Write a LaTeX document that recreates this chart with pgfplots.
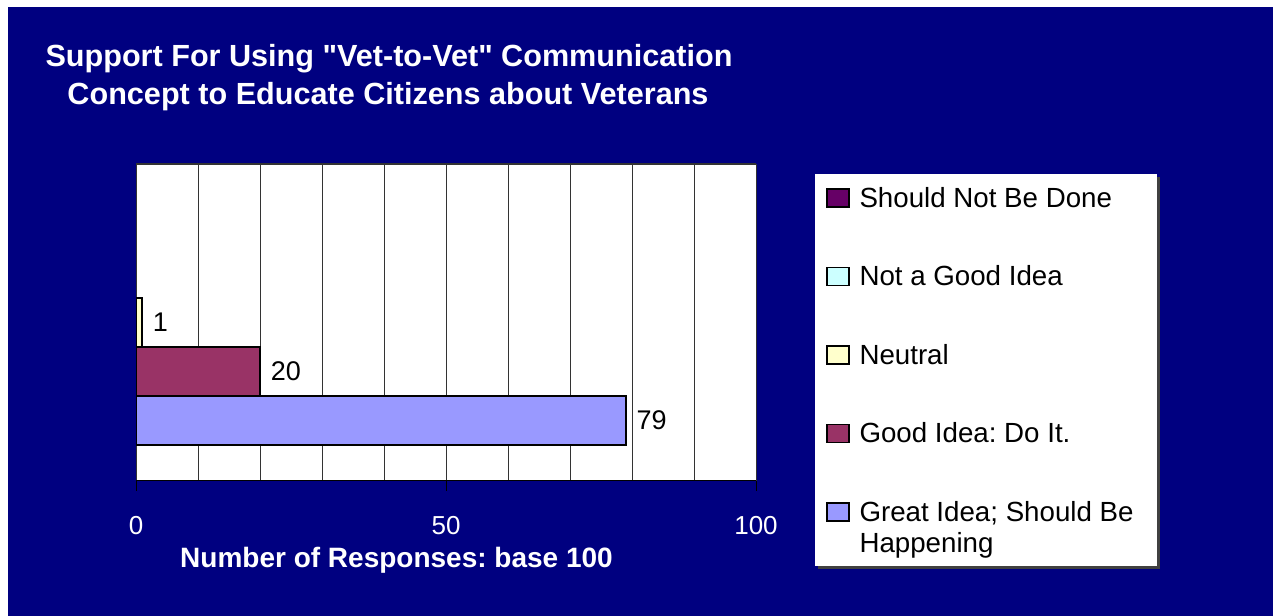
\documentclass[border=0pt]{standalone}
\usepackage{fontspec}
\setmainfont{Liberation Sans}[Ligatures=TeXOff]
\usepackage{pgfplots}
\pgfplotsset{compat=1.18}
\definecolor{navy}{HTML}{000080}
\definecolor{cShould}{HTML}{660066}
\definecolor{cNot}{HTML}{CCFFFF}
\definecolor{cNeutral}{HTML}{FFFFCC}
\definecolor{cGood}{HTML}{993366}
\definecolor{cGreat}{HTML}{9999FF}
\frenchspacing
\begin{document}
\begin{tikzpicture}[x=1bp,y=1bp]
\fill[white] (0,0) rectangle (1273,616);
\fill[navy] (8,0) rectangle (1273,609);
\node[anchor=base, text=white, font=\bfseries\fontsize{30.6bp}{36bp}\selectfont, inner sep=0] at (389,549) {Support For Using "Vet-to-Vet" Communication};
\node[anchor=base, text=white, font=\bfseries\fontsize{30.6bp}{36bp}\selectfont, inner sep=0] at (388,511) {Concept to Educate Citizens about Veterans};
\fill[black!75] (818,47) rectangle (1160,439);
\fill[white] (815,50) rectangle (1157,442);
\begin{axis}[
  at={(136bp,135bp)}, anchor=south west,
  scale only axis, width=620bp, height=317bp,
  xmin=0, xmax=100, ymin=-0.2347, ymax=6.2347,
  xbar, bar width=1, bar shift=0pt,
  axis background/.style={fill=white},
  axis line style={draw=none},
  xtick pos=bottom,
  xtick={0,50,100}, minor xtick={10,20,30,40,60,70,80,90},
  ytick=\empty,
  xmajorgrids=true, xminorgrids=true,
  major grid style={black!80, line width=0.8bp},
  minor grid style={black!80, line width=0.8bp},
  tick align=outside, major tick length=10bp, minor tick length=0bp,
  tick style={black, line width=1bp},
  /pgf/number format/assume math mode=true,
  xticklabel style={text=white, font=\fontsize{26bp}{30bp}\selectfont, yshift=-22bp},
  xlabel={Number of Responses: base 100},
  xlabel style={font=\bfseries\fontsize{28bp}{32bp}\selectfont, text=white, at={(axis description cs:0.4202,-0.2744)}, anchor=base, inner sep=0},
  every axis plot/.append style={draw=black, line width=1.5bp},
  nodes near coords,
  nodes near coords style={font=\fontsize{27bp}{31bp}\selectfont, text=black, anchor=west, inner sep=0, xshift=10bp},
  legend image code/.code={\draw[#1] (0bp,0bp) rectangle (22bp,18bp);},
  legend style={at={(axis description cs:1.1129,0.9274)}, anchor=north west, draw=none, fill=none, inner sep=0pt, outer sep=0pt, row sep=52.5bp, column sep=10bp, font=\fontsize{27.7bp}{31bp}\selectfont, nodes={inner sep=0pt, text height=20bp, text depth=6bp}, cells={anchor=base west}},
]
\addlegendimage{fill=cShould, draw=black, line width=1.5bp}
\addlegendentry{Should Not Be Done}
\addlegendimage{fill=cNot, draw=black, line width=1.5bp}
\addlegendentry{Not a Good Idea}
\addplot[fill=cNeutral] coordinates {(1,3)};
\addlegendentry{Neutral}
\addplot[fill=cGood] coordinates {(20,2)};
\addlegendentry{Good Idea: Do It.}
\addplot[fill=cGreat] coordinates {(79,1)};
\addlegendentry{{\begin{tabular}[t]{@{}l@{}}Great Idea; Should Be\\Happening\end{tabular}}}
\draw[black!80, line width=1.5bp] (rel axis cs:0,1) -- (rel axis cs:1,1);
\draw[black, line width=1.5bp] (rel axis cs:0,0) -- (rel axis cs:1,0);
\end{axis}
\end{tikzpicture}
\end{document}
